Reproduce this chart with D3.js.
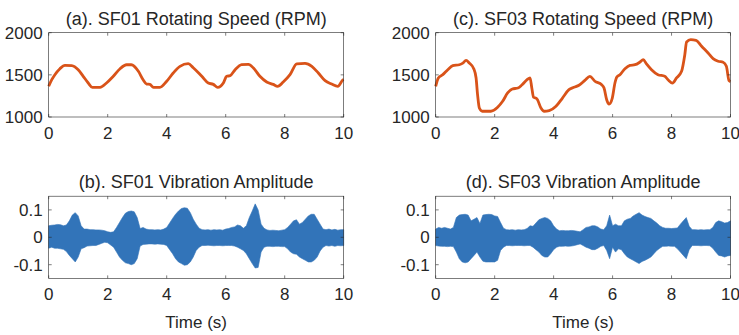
<!DOCTYPE html>
<html>
<head>
<meta charset="utf-8">
<script src="https://cdn.jsdelivr.net/npm/d3@7/dist/d3.min.js"></script>
<style>
  html, body { margin: 0; padding: 0; background: #fff; }
  svg { display: block; font-family: "Liberation Sans", Arial, sans-serif; }
</style>
</head>
<body>
<div id="chart"></div>
<script>
// ---- data ----
const timeTicks = [0, 2, 4, 6, 8, 10];
const speedTicks = [1000, 1500, 2000];
const ampTicks = [-0.1, 0, 0.1];
const ampTickLabels = ['-0.1', '0', '0.1'];

// SF01 rotating speed: sample times (s) and rpm
const sf01Time = [0, 0.1, 0.21, 0.38, 0.55, 0.78, 1.0, 1.17, 1.34, 1.48, 1.74, 1.96, 2.19, 2.42, 2.64, 2.8,
  3.04, 3.2, 3.32, 3.43, 3.55, 3.77, 4.0, 4.22, 4.45, 4.73, 4.9, 5.19, 5.41, 5.58, 5.73, 5.92, 6.03, 6.15,
  6.32, 6.54, 6.77, 6.94, 7.16, 7.39, 7.61, 7.76, 7.95, 8.18, 8.41, 8.69, 8.92, 9.14, 9.37, 9.59, 9.8, 9.98, 10];
const sf01Speed = [1364, 1440, 1502, 1573, 1613, 1609, 1561, 1483, 1403, 1352, 1352, 1403, 1483, 1573, 1620, 1620,
  1542, 1442, 1391, 1387, 1352, 1352, 1424, 1522, 1601, 1632, 1585, 1483, 1403, 1387, 1352, 1403, 1483, 1490,
  1561, 1620, 1625, 1581, 1483, 1415, 1387, 1364, 1415, 1502, 1629, 1636, 1601, 1522, 1431, 1391, 1364, 1442, 1445];

// SF03 rotating speed
const sf03Time = [0, 0.09, 0.24, 0.41, 0.58, 0.8, 0.92, 1.03, 1.14, 1.29, 1.37, 1.42, 1.48, 1.58, 1.87, 2.1,
  2.27, 2.44, 2.6, 2.79, 2.93, 3.1, 3.2, 3.26, 3.32, 3.43, 3.57, 3.68, 3.85, 4.08, 4.3, 4.52, 4.69, 4.86,
  5.06, 5.23, 5.4, 5.63, 5.71, 5.8, 5.88, 5.99, 6.08, 6.14, 6.25, 6.42, 6.59, 6.76, 6.93, 7.04, 7.15, 7.32,
  7.54, 7.77, 7.88, 8.03, 8.17, 8.34, 8.45, 8.51, 8.65, 8.83, 9.02, 9.24, 9.41, 9.58, 9.75, 9.86, 9.95, 10];
const sf03Speed = [1364, 1463, 1502, 1561, 1609, 1620, 1640, 1672, 1640, 1573, 1463, 1265, 1107, 1068, 1068, 1115,
  1186, 1285, 1332, 1344, 1383, 1442, 1463, 1344, 1234, 1217, 1107, 1068, 1075, 1127, 1225, 1324, 1352, 1376,
  1435, 1483, 1424, 1383, 1344, 1205, 1154, 1225, 1403, 1471, 1502, 1573, 1613, 1620, 1652, 1680, 1629, 1561,
  1502, 1483, 1442, 1403, 1463, 1542, 1739, 1890, 1917, 1910, 1839, 1759, 1692, 1661, 1650, 1601, 1431, 1420];

// vibration envelopes, sampled every 0.1 s from 0 to 10 s
const vibTime = d3.range(101).map(i => i / 10);
const sf01Upper = [
  .042, .044, .045, .047, .046, .042, .045, .060, .081, .090,
  .078, .042, .030, .030, .028, .028, .027, .027, .026, .024,
  .020, .018, .020, .036, .054, .072, .088, .094, .096, .093,
  .072, .032, .036, .030, .028, .028, .027, .028, .027, .030,
  .036, .052, .069, .084, .096, .105, .108, .106, .090, .066,
  .048, .033, .028, .027, .028, .026, .028, .027, .028, .026,
  .030, .032, .036, .038, .045, .042, .033, .042, .072, .096,
  .122, .100, .048, .033, .027, .025, .026, .025, .024, .026,
  .028, .036, .048, .060, .064, .048, .054, .066, .078, .084,
  .084, .066, .048, .030, .028, .030, .027, .029, .026, .028, .028];
const sf01Lower = [
  -.040, -.036, -.040, -.040, -.042, -.044, -.052, -.066, -.078, -.090,
  -.072, -.042, -.038, -.032, -.031, -.030, -.030, -.026, -.022, -.018,
  -.020, -.028, -.036, -.054, -.072, -.084, -.093, -.096, -.100, -.096,
  -.078, -.032, -.026, -.025, -.024, -.024, -.025, -.024, -.025, -.026,
  -.030, -.045, -.060, -.078, -.090, -.096, -.102, -.100, -.090, -.072,
  -.048, -.036, -.030, -.030, -.029, -.030, -.031, -.030, -.030, -.031,
  -.030, -.030, -.030, -.032, -.036, -.042, -.048, -.060, -.078, -.096,
  -.112, -.110, -.054, -.036, -.033, -.033, -.034, -.033, -.033, -.034,
  -.034, -.042, -.054, -.060, -.062, -.072, -.078, -.084, -.090, -.090,
  -.084, -.072, -.050, -.036, -.030, -.032, -.030, -.033, -.030, -.031, -.030];
const sf03Upper = [
  .030, .036, .033, .036, .033, .030, .036, .072, .081, .083,
  .084, .081, .060, .066, .072, .050, .081, .083, .084, .083,
  .078, .076, .054, .033, .028, .027, .028, .026, .028, .027,
  .028, .032, .042, .040, .052, .064, .069, .072, .069, .060,
  .042, .030, .024, .025, .024, .024, .025, .024, .022, .020,
  .028, .036, .038, .042, .042, .038, .030, .028, .042, .081,
  .042, .048, .042, .042, .060, .066, .069, .078, .084, .090,
  .081, .076, .072, .069, .060, .052, .042, .036, .033, .033,
  .032, .033, .034, .048, .060, .072, .040, .028, .028, .027,
  .028, .027, .028, .028, .036, .054, .060, .057, .052, .054, .060];
const sf03Lower = [
  -.030, -.032, -.033, -.033, -.034, -.033, -.034, -.054, -.078, -.090,
  -.093, -.090, -.078, -.066, -.054, -.072, -.087, -.090, -.090, -.090,
  -.090, -.084, -.048, -.036, -.030, -.030, -.031, -.030, -.030, -.030,
  -.031, -.030, -.030, -.036, -.045, -.054, -.066, -.072, -.072, -.060,
  -.045, -.036, -.033, -.033, -.032, -.033, -.032, -.030, -.027, -.024,
  -.030, -.036, -.040, -.045, -.045, -.040, -.033, -.030, -.048, -.078,
  -.036, -.054, -.042, -.045, -.060, -.072, -.078, -.084, -.090, -.096,
  -.088, -.084, -.078, -.072, -.060, -.048, -.040, -.033, -.033, -.032,
  -.033, -.033, -.042, -.054, -.066, -.078, -.045, -.030, -.030, -.030,
  -.031, -.030, -.030, -.031, -.040, -.054, -.066, -.068, -.072, -.068, -.066];

// ---- layout ----
const width = 739, height = 335;
const axisColor = '#262626';
const speedColor = '#D95319';
const vibColor = '#3274B9';

const svg = d3.select('#chart').append('svg')
  .attr('width', width)
  .attr('height', height);

const cols = [[48.7, 343.7], [435.7, 730.5]];
const rows = [[117, 32.7], [278.4, 196.2]];

function panel(col, row, opts) {
  const x = d3.scaleLinear().domain([0, 10]).range(cols[col]);
  const y = d3.scaleLinear().domain(opts.yDomain).range(rows[row]);
  const g = svg.append('g');
  const [x0, x1] = cols[col];
  const [y0, y1] = rows[row];

  // data
  opts.draw(g, x, y);

  // box
  g.append('rect')
    .attr('x', x0).attr('y', y1)
    .attr('width', x1 - x0).attr('height', y0 - y1)
    .attr('fill', 'none')
    .attr('stroke', axisColor)
    .attr('stroke-width', 0.6);

  // x ticks (inside, top and bottom)
  const tl = 3;
  timeTicks.forEach(t => {
    g.append('line').attr('x1', x(t)).attr('x2', x(t)).attr('y1', y0).attr('y2', y0 - tl)
      .attr('stroke', axisColor).attr('stroke-width', 0.6);
    g.append('line').attr('x1', x(t)).attr('x2', x(t)).attr('y1', y1).attr('y2', y1 + tl)
      .attr('stroke', axisColor).attr('stroke-width', 0.6);
    g.append('text').attr('x', x(t)).attr('y', y0 + 22)
      .attr('text-anchor', 'middle')
      .attr('font-size', 17).attr('fill', axisColor)
      .text(t);
  });
  opts.yTicks.forEach((v, i) => {
    g.append('line').attr('x1', x0).attr('x2', x0 + tl).attr('y1', y(v)).attr('y2', y(v))
      .attr('stroke', axisColor).attr('stroke-width', 0.6);
    g.append('line').attr('x1', x1).attr('x2', x1 - tl).attr('y1', y(v)).attr('y2', y(v))
      .attr('stroke', axisColor).attr('stroke-width', 0.6);
    g.append('text').attr('x', x0 - 6).attr('y', y(v))
      .attr('dy', '0.35em')
      .attr('text-anchor', 'end')
      .attr('font-size', 17).attr('fill', axisColor)
      .text(opts.yLabels[i]);
  });

  // title
  g.append('text').attr('x', (x0 + x1) / 2).attr('y', y1 - 8)
    .attr('text-anchor', 'middle')
    .attr('font-size', 18).attr('fill', axisColor)
    .text(opts.title);

  if (opts.xlabel) {
    g.append('text').attr('x', (x0 + x1) / 2).attr('y', y0 + 50)
      .attr('text-anchor', 'middle')
      .attr('font-size', 17).attr('fill', axisColor)
      .text(opts.xlabel);
  }
}

function speedDraw(times, vals) {
  return (g, x, y) => {
    const line = d3.line()
      .x((d, i) => x(times[i]))
      .y(d => y(d))
      .curve(d3.curveMonotoneX);
    g.append('path').datum(vals)
      .attr('d', line)
      .attr('fill', 'none')
      .attr('stroke', speedColor)
      .attr('stroke-width', 2.8)
      .attr('stroke-linejoin', 'round');
  };
}

function vibDraw(upper, lower) {
  return (g, x, y) => {
    const area = d3.area()
      .x((d, i) => x(vibTime[i]))
      .y0((d, i) => y(lower[i]))
      .y1(d => y(d))
      .curve(d3.curveLinear);
    g.append('path').datum(upper)
      .attr('d', area)
      .attr('fill', vibColor)
      .attr('stroke', vibColor)
      .attr('stroke-width', 0.6);
  };
}

const speedLabels = speedTicks.map(String);

panel(0, 0, {
  yDomain: [1000, 2000], yTicks: speedTicks, yLabels: speedLabels,
  title: '(a). SF01 Rotating Speed (RPM)',
  draw: speedDraw(sf01Time, sf01Speed)
});
panel(1, 0, {
  yDomain: [1000, 2000], yTicks: speedTicks, yLabels: speedLabels,
  title: '(c). SF03 Rotating Speed (RPM)',
  draw: speedDraw(sf03Time, sf03Speed)
});
panel(0, 1, {
  yDomain: [-0.15, 0.15], yTicks: ampTicks, yLabels: ampTickLabels,
  title: '(b). SF01 Vibration Amplitude', xlabel: 'Time (s)',
  draw: vibDraw(sf01Upper, sf01Lower)
});
panel(1, 1, {
  yDomain: [-0.15, 0.15], yTicks: ampTicks, yLabels: ampTickLabels,
  title: '(d). SF03 Vibration Amplitude', xlabel: 'Time (s)',
  draw: vibDraw(sf03Upper, sf03Lower)
});
</script>
</body>
</html>
